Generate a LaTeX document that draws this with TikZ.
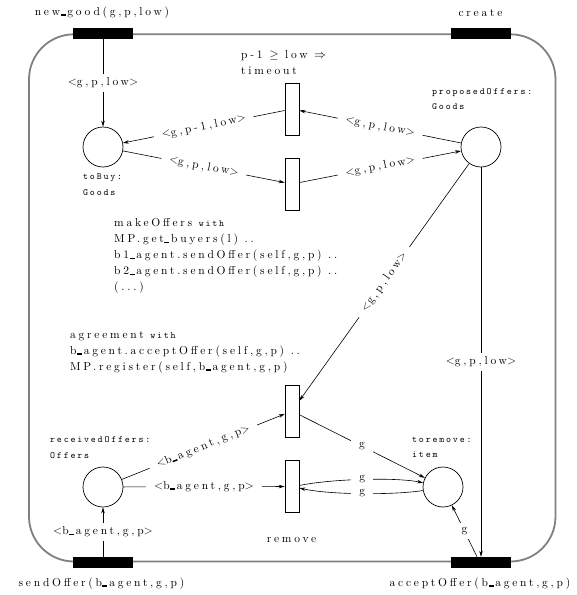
\documentclass[tikz,border=0pt]{standalone}
\usepackage{fontspec}
\usetikzlibrary{arrows.meta}
% spaced-out roman and typewriter faces used throughout the net
\newfontfamily\rmspf{lmroman10-regular.otf}[LetterSpace=24]
\newfontfamily\ttspf{lmmono10-regular.otf}[LetterSpace=19]
\newcommand{\rmsp}{\rmspf\fontsize{11.5}{16}\selectfont}
\newcommand{\ttsp}{\ttspf\fontsize{9.5}{15.5}\selectfont}
% heavy underscore sitting on the baseline
\newcommand{\us}{\kern0.4pt\rule[-0.4pt]{5pt}{1.5pt}\kern1.8pt}
\begin{document}
\begin{tikzpicture}[x=1pt,y=-1pt,
  place/.style={circle,draw,line width=0.7pt,minimum size=40pt,inner sep=0pt},
  trans/.style={rectangle,draw,line width=0.7pt,minimum width=14pt,minimum height=52pt,inner sep=0pt},
  bar/.style={rectangle,fill=black,minimum width=60pt,minimum height=11pt,inner sep=0pt},
  txt/.style={font=\rmsp,inner sep=0pt},
  block/.style={font=\rmsp,inner sep=0pt,align=left,anchor=north west},
  ttl/.style={font=\ttsp,inner sep=0pt,align=left,anchor=north west},
  lab/.style={font=\rmsp,fill=white,inner xsep=8pt,inner ysep=4pt},
  arc/.style={line width=0.6pt,-{Stealth[length=6pt,width=3.5pt]}},
]
\useasboundingbox (0,0) rectangle (577,595);

% enclosing object boundary
\draw[gray,line width=1.8pt,rounded corners=45pt] (29,34.3) rectangle (555.5,561.5);

% interface transitions on the boundary
\node[bar] (ng) at (103,33.5) {};
\node[bar] (cr) at (481,33.5) {};
\node[bar] (so) at (103,562.5) {};
\node[bar] (ao) at (481,562.5) {};
\node[txt,anchor=base] (ngl) at (102,15.5) {new\us good(g,p,low)};
\node[txt,anchor=base] (crl) at (480.5,16.5) {create};
\node[txt,anchor=base] (sol) at (101.5,586.5) {sendOffer(b\us agent,g,p)};
\node[txt,anchor=base] (aol) at (480,586.5) {acceptOffer(b\us agent,g,p)};

% places
\node[place] (tb) at (103,147) {};
\node[place] (po) at (481,147) {};
\node[place] (ro) at (103,487) {};
\node[place] (tr) at (443,487) {};
\node[ttl] (tbl) at (83,173.5) {toBuy:\\Goods};
\node[ttl] (pol) at (432,88.3) {proposedOffers:\\Goods};
\node[ttl] (rol) at (50,436.7) {receivedOffers:\\Offers};
\node[ttl] (trl) at (412,436.7) {toremove:\\item};

% internal transitions
\node[trans] (to) at (292,109) {};
\node[trans] (mo) at (292,184) {};
\node[trans] (ag) at (292,411) {};
\node[trans] (rm) at (292,486.5) {};

% transition inscriptions
\node[block] (tol) at (241,50) {p-1 $\geq$ low $\Rightarrow$\\timeout};
\node[block] (mol) at (114,218.5) {makeOffers {\ttsp with}\\MP.get\us buyers(l) ..\\b1\us agent.sendOffer(self,g,p) ..\\b2\us agent.sendOffer(self,g,p) ..\\(...)};
\node[block] (agl) at (70,331) {agreement {\ttsp with}\\b\us agent.acceptOffer(self,g,p) ..\\MP.register(self,b\us agent,g,p)};
\node[txt,anchor=base] (rml) at (291.5,542.5) {remove};

% arcs
\draw[arc] (ng) -- node[lab] {$<$g,p,low$>$} (tb);
\draw[arc] (to) -- node[lab,sloped] {$<$g,p-1,low$>$} (tb);
\draw[arc] (po) -- node[lab,sloped] {$<$g,p,low$>$} (to);
\draw[arc] (tb) -- node[lab,sloped] {$<$g,p,low$>$} (mo);
\draw[arc] (mo) -- node[lab,sloped] {$<$g,p,low$>$} (po);
\draw[arc] (po) -- node[lab,sloped] {$<$g,p,low$>$} (ag);
\draw[arc] (po) -- node[lab] {$<$g,p,low$>$} (ao);
\draw[arc] (ro) -- node[lab,sloped] {$<$b\us agent,g,p$>$} (ag);
\draw[arc] (ro) -- node[lab] {$<$b\us agent,g,p$>$} (rm);
\draw[arc] (so) -- node[lab] {$<$b\us agent,g,p$>$} (ro);
\draw[arc] (ag) -- node[lab] {g} (tr);
\draw[arc] ([yshift=1pt]rm.east) .. controls (330,479) and (395,477) .. node[lab] {g} (tr.168);
\draw[arc] (tr.190) .. controls (395,495) and (330,495) .. node[lab] {g} ([yshift=-1.5pt]rm.east);
\draw[arc] ([xshift=-4pt]ao.north) -- node[lab] {g} (tr);
\end{tikzpicture}
\end{document}
